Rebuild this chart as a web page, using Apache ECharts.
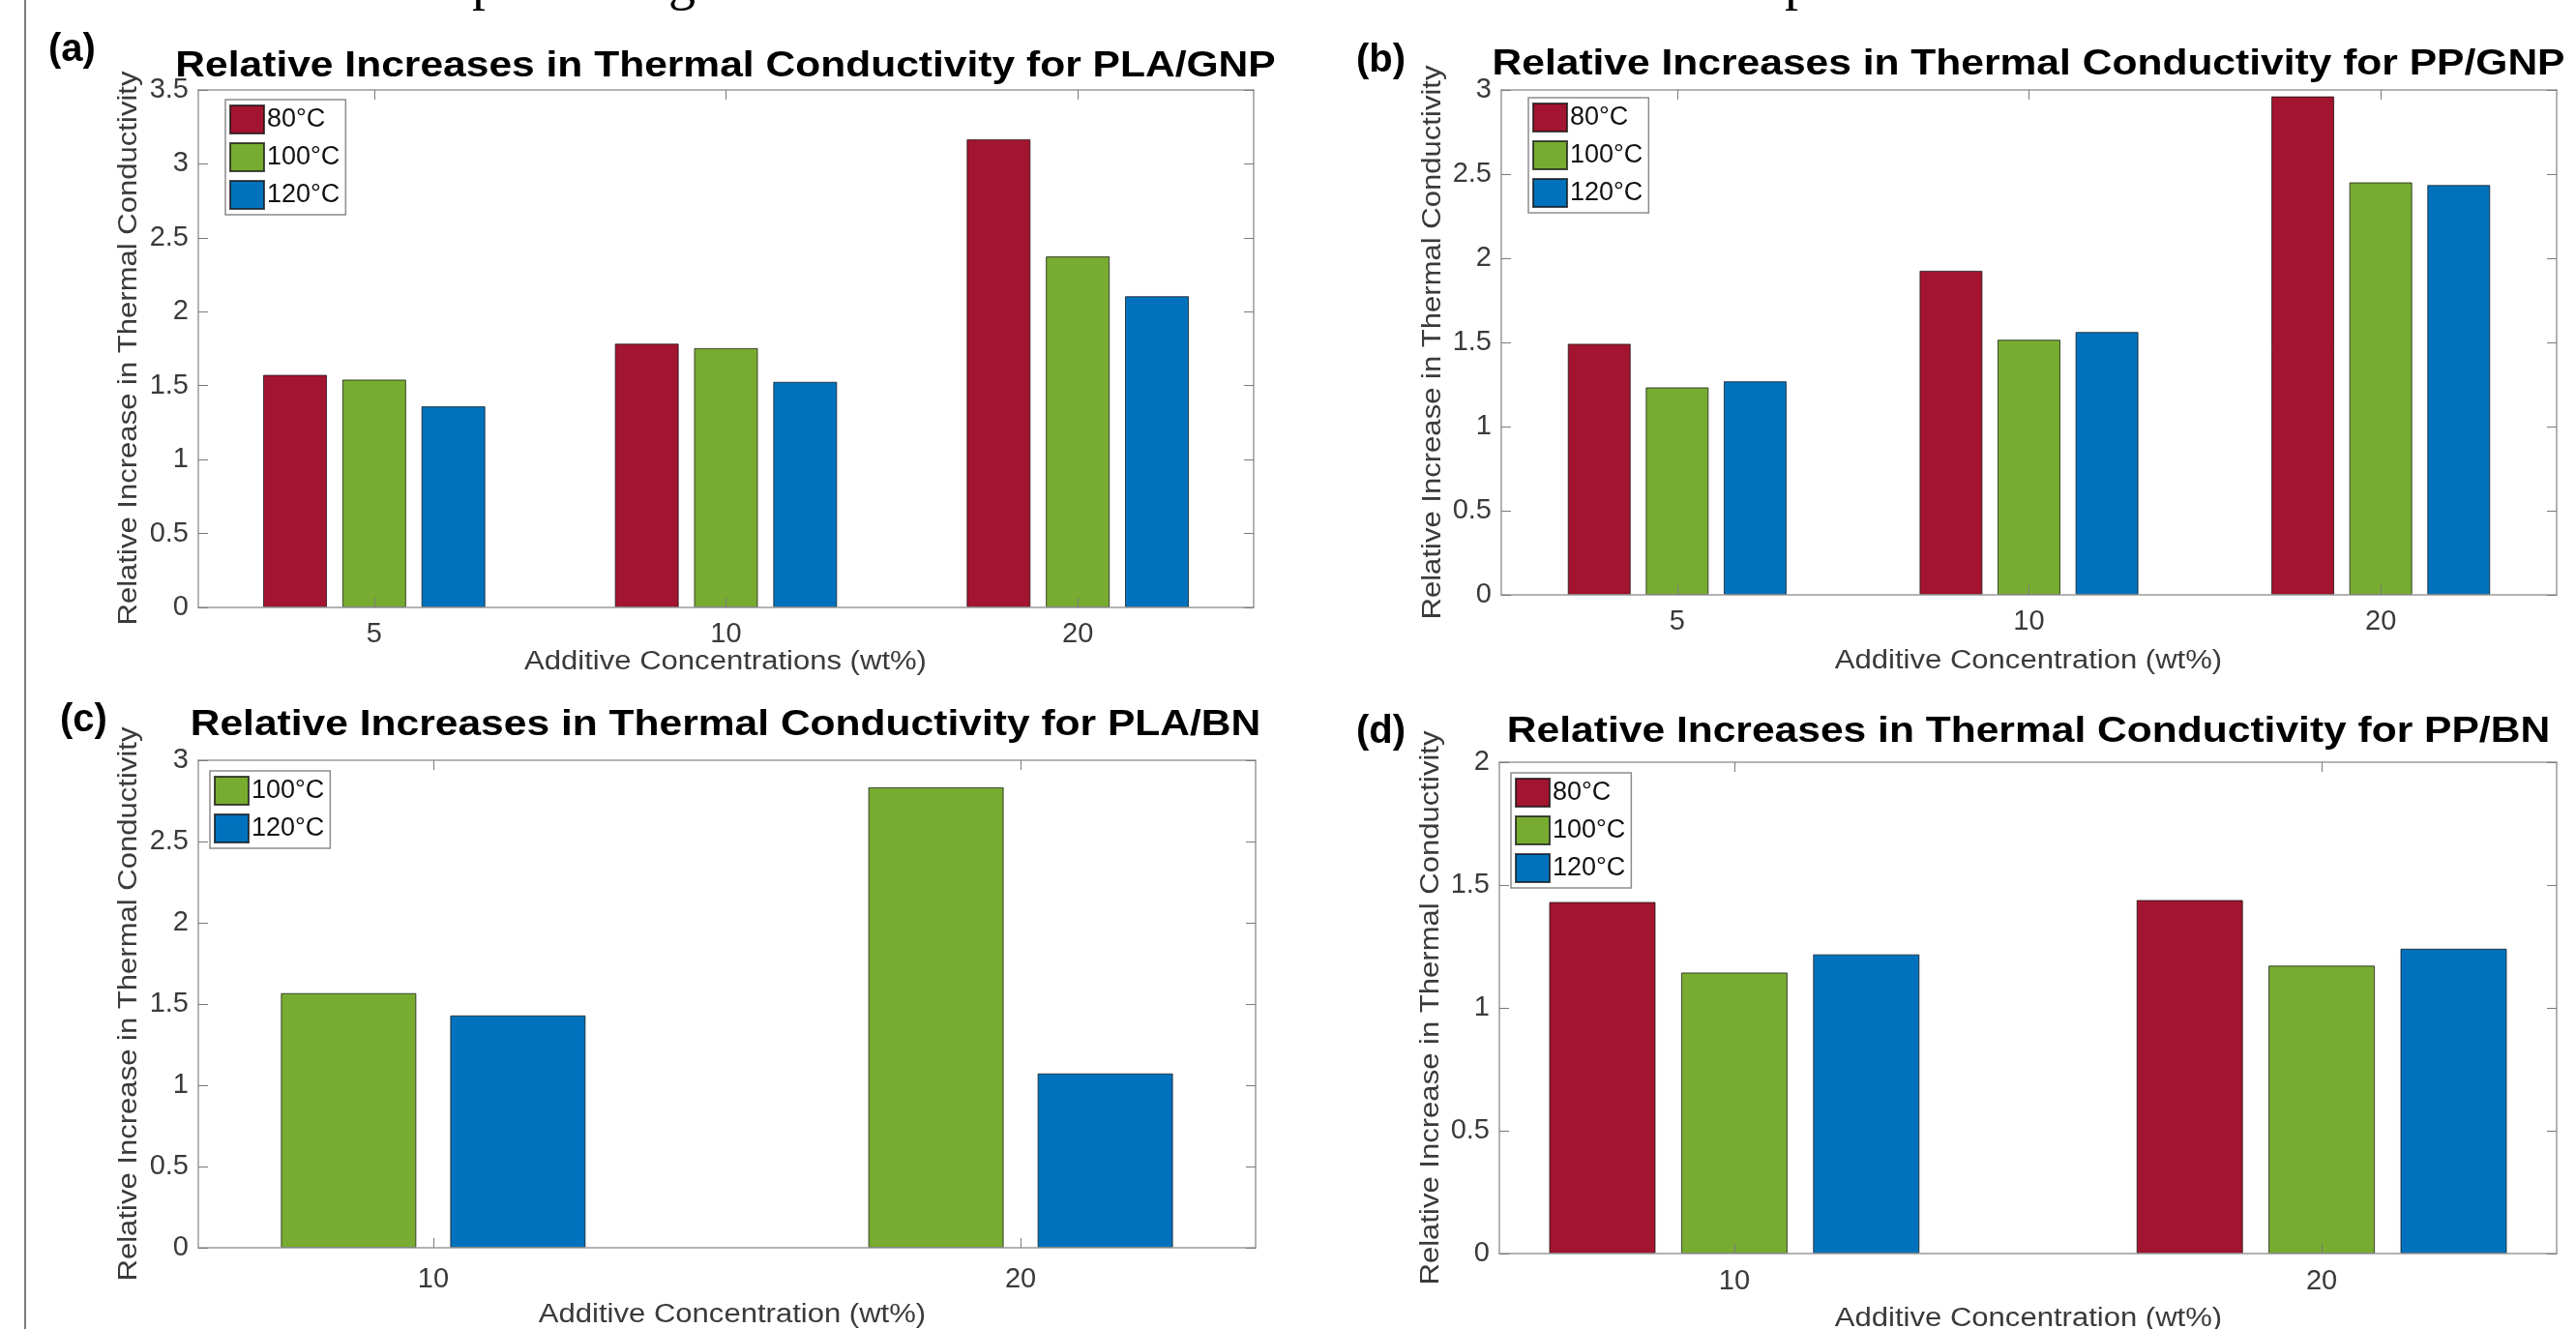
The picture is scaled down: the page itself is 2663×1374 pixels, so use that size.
<!DOCTYPE html>
<html>
<head>
<meta charset="utf-8">
<script src="https://cdn.jsdelivr.net/npm/echarts@6/dist/echarts.min.js"></script>
<style>
  html, body { margin: 0; padding: 0; background: #fff; }
  #chart { width: 2663px; height: 1374px; }
</style>
</head>
<body>
<div id="chart"></div>
<script>
// ---- data ----
const tempLabels = ['80°C', '100°C', '120°C'];
const gnpConcentrations = ['5', '10', '20'];
const bnConcentrations = [10, 20];

const plaGnp80  = [1.573, 1.784, 3.167];
const plaGnp100 = [1.541, 1.754, 2.374];
const plaGnp120 = [1.360, 1.526, 2.105];

const ppGnp80  = [1.492, 1.926, 2.962];
const ppGnp100 = [1.233, 1.516, 2.451];
const ppGnp120 = [1.269, 1.562, 2.435];

const plaBn100 = [1.567, 2.834];
const plaBn120 = [1.430, 1.073];

const ppBn80  = [1.431, 1.439];
const ppBn100 = [1.144, 1.172];
const ppBn120 = [1.218, 1.241];

const panelTitles = [
  'Relative Increases in Thermal Conductivity for PLA/GNP',
  'Relative Increases in Thermal Conductivity for PP/GNP',
  'Relative Increases in Thermal Conductivity for PLA/BN',
  'Relative Increases in Thermal Conductivity for PP/BN'
];
const panelTags = ['(a)', '(b)', '(c)', '(d)'];
const yAxisTitle = 'Relative Increase in Thermal Conductivity';
const xAxisTitles = [
  'Additive Concentrations (wt%)',
  'Additive Concentration (wt%)',
  'Additive Concentration (wt%)',
  'Additive Concentration (wt%)'
];

// ---- styling ----
const FONT = '"Liberation Sans", Arial, Helvetica, sans-serif';
const SERIF = '"Liberation Serif", "DejaVu Serif", serif';
const tempColors = { '80°C': '#A2142F', '100°C': '#77AC30', '120°C': '#0072BD' };
const axisGray = '#9a9a9a';
const tickGray = '#7a7a7a';
const labelGray = '#3a3a3a';
const TICK_FONT = 29;

// panel layout: plot rectangles, axis ranges, legend placement, text anchors
const panels = [
  { grid: { left: 205, top: 93, width: 1091, height: 535 }, yMax: 3.5, xType: 'category',
    legend: { left: 233, top: 103 }, labelMargin: 13, barWidth: 66, barGap: '24%',
    series: [['80°C', plaGnp80], ['100°C', plaGnp100], ['120°C', plaGnp120]],
    title: { x: 750, y: 69 }, tag: { x: 50, y: 52 }, yName: { x: 134, y: 360 }, xName: { x: 750, y: 685 } },
  { grid: { left: 1552, top: 93, width: 1091, height: 522 }, yMax: 3, xType: 'category',
    legend: { left: 1580, top: 101 }, labelMargin: 13, barWidth: 65, barGap: '24%',
    series: [['80°C', ppGnp80], ['100°C', ppGnp100], ['120°C', ppGnp120]],
    title: { x: 2097, y: 67 }, tag: { x: 1402, y: 63 }, yName: { x: 1482, y: 354 }, xName: { x: 2097, y: 684 } },
  { grid: { left: 205, top: 786, width: 1093, height: 504 }, yMax: 3, xType: 'value', xMin: 6, xMax: 24,
    legend: { left: 217, top: 797 }, labelMargin: 18, barWidth: 140, barGap: '25%',
    series: [['100°C', plaBn100], ['120°C', plaBn120]],
    title: { x: 750, y: 750 }, tag: { x: 62, y: 745 }, yName: { x: 134, y: 1038 }, xName: { x: 757, y: 1360 } },
  { grid: { left: 1550, top: 788, width: 1093, height: 508 }, yMax: 2, xType: 'value', xMin: 6, xMax: 24,
    legend: { left: 1562, top: 799 }, labelMargin: 14, barWidth: 110, barGap: '24%',
    series: [['80°C', ppBn80], ['100°C', ppBn100], ['120°C', ppBn120]],
    title: { x: 2097, y: 757 }, tag: { x: 1402, y: 757 }, yName: { x: 1480, y: 1042 }, xName: { x: 2097, y: 1364 } }
];

const grid = [], xAxis = [], yAxis = [], series = [], legend = [], graphic = [];

panels.forEach((p, i) => {
  grid.push(Object.assign({ containLabel: false }, p.grid));

  const tickCommon = { show: true, inside: true, length: 10, lineStyle: { color: tickGray, width: 1 } };
  const lineCommon = { show: true, onZero: false, lineStyle: { color: axisGray, width: 1.5 } };
  const tickLabel = { fontSize: TICK_FONT, fontFamily: FONT, color: labelGray };

  if (p.xType === 'category') {
    const base = { type: 'category', gridIndex: i, data: gnpConcentrations, z: 10,
      axisLine: lineCommon, splitLine: { show: false } };
    xAxis.push(Object.assign({}, base, { position: 'bottom',
      axisTick: Object.assign({ alignWithLabel: true }, tickCommon),
      axisLabel: Object.assign({ margin: p.labelMargin }, tickLabel) }));
    xAxis.push(Object.assign({}, base, { position: 'top',
      axisTick: Object.assign({ alignWithLabel: true }, tickCommon),
      axisLabel: { show: false } }));
  } else {
    const base = { type: 'value', gridIndex: i, min: p.xMin, max: p.xMax, z: 10,
      axisLine: lineCommon, splitLine: { show: false } };
    xAxis.push(Object.assign({}, base, { position: 'bottom',
      axisTick: Object.assign({ customValues: bnConcentrations }, tickCommon),
      axisLabel: Object.assign({ customValues: bnConcentrations, margin: p.labelMargin }, tickLabel) }));
    xAxis.push(Object.assign({}, base, { position: 'top',
      axisTick: Object.assign({ customValues: bnConcentrations }, tickCommon),
      axisLabel: { show: false } }));
  }

  const yBase = { type: 'value', gridIndex: i, min: 0, max: p.yMax, interval: 0.5, z: 10,
    axisLine: lineCommon, axisTick: tickCommon, splitLine: { show: false } };
  yAxis.push(Object.assign({}, yBase, { position: 'left',
    axisLabel: Object.assign({ margin: 10 }, tickLabel) }));
  yAxis.push(Object.assign({}, yBase, { position: 'right', axisLabel: { show: false } }));

  p.series.forEach(([name, values]) => {
    const data = p.xType === 'category' ? values : bnConcentrations.map((c, j) => [c, values[j]]);
    series.push({
      type: 'bar', name, data,
      xAxisIndex: 2 * i, yAxisIndex: 2 * i,
      barWidth: p.barWidth, barGap: p.barGap,
      itemStyle: { color: tempColors[name], borderColor: 'rgba(20,20,20,0.75)', borderWidth: 1 },
      emphasis: { disabled: true },
      z: 2
    });
  });

  legend.push({
    orient: 'vertical', left: p.legend.left, top: p.legend.top,
    data: p.series.map(s => s[0]),
    icon: 'rect', itemWidth: 35, itemHeight: 29, itemGap: 8,
    padding: [5, 6, 5, 4],
    borderColor: '#8c8c8c', borderWidth: 1.5, backgroundColor: '#fff',
    selectedMode: false,
    textStyle: { fontSize: 27, fontFamily: FONT, color: '#111', padding: [0, 0, 0, -2] }
  });

  // panel title
  graphic.push({ type: 'text', x: p.title.x, y: p.title.y, scaleX: 1.15, z: 20,
    style: { text: panelTitles[i], font: 'bold 37px ' + FONT, fill: '#000', align: 'center', verticalAlign: 'middle' } });
  // panel tag
  graphic.push({ type: 'text', x: p.tag.x, y: p.tag.y, z: 20,
    style: { text: panelTags[i], font: 'bold 40px ' + FONT, fill: '#000', align: 'left', verticalAlign: 'middle' } });
  // y-axis title
  graphic.push({ type: 'text', x: p.yName.x, y: p.yName.y, rotation: Math.PI / 2, scaleX: 1.15, z: 20,
    style: { text: yAxisTitle, font: '27px ' + FONT, fill: labelGray, align: 'center', verticalAlign: 'middle' } });
  // x-axis title
  graphic.push({ type: 'text', x: p.xName.x, y: p.xName.y, scaleX: 1.15, z: 20,
    style: { text: xAxisTitles[i], font: '27px ' + FONT, fill: labelGray, align: 'center', verticalAlign: 'middle' } });
});

// page margin rule on the left edge
graphic.push({ type: 'line', z: 20, shape: { x1: 26, y1: 0, x2: 26, y2: 1374 },
  style: { stroke: '#7a7a7a', lineWidth: 2 } });
graphic.push({ type: 'text', x: -9, y: 692, z: 20,
  style: { text: ')', font: '32px ' + FONT, fill: '#222', align: 'left', verticalAlign: 'middle' } });

// descenders of the running text line above the figure, cut by the top edge
[{ ch: 'p', x: 488 }, { ch: 'g', x: 691 }, { ch: 'p', x: 1845 }].forEach(f => {
  graphic.push({ type: 'text', x: f.x, y: -16, z: 20,
    style: { text: f.ch, font: '56px ' + SERIF, fill: '#000', align: 'left', verticalAlign: 'middle' } });
});

const chart = echarts.init(document.getElementById('chart'), null, { renderer: 'canvas' });
chart.setOption({
  animation: false,
  backgroundColor: '#fff',
  grid, xAxis, yAxis, series, legend, graphic,
  tooltip: { show: false }
});
</script>
</body>
</html>
